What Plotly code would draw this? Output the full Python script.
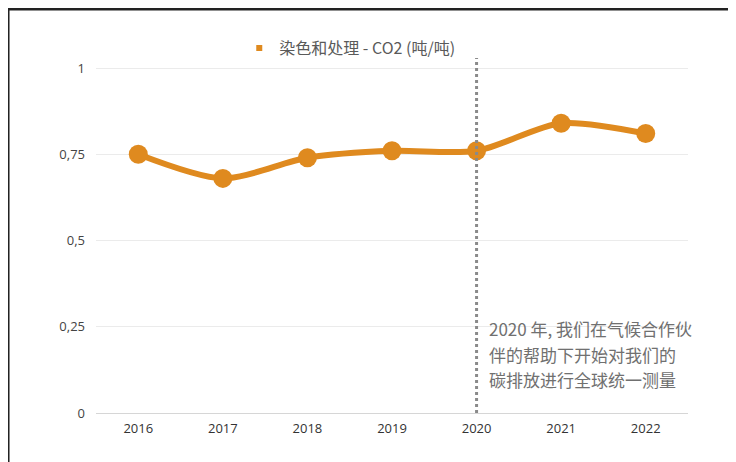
import plotly.graph_objects as go

years = ["2016", "2017", "2018", "2019", "2020", "2021", "2022"]
co2 = [0.75, 0.68, 0.74, 0.76, 0.76, 0.84, 0.81]
series_name = "染色和处理 - CO2 (吨/吨)"
note_lines = ["2020 年, 我们在气候合作伙", "伴的帮助下开始对我们的", "碳排放进行全球统一测量"]
y_ticks = [0, 0.25, 0.5, 0.75, 1]
marked_year_index = 4  # 2020

orange = "#DF8A1F"
fig = go.Figure()
fig.add_trace(go.Scatter(
    x=years, y=co2, mode="lines+markers",
    line=dict(color=orange, width=6, shape="spline", smoothing=0.8),
    marker=dict(color=orange, size=19),
    showlegend=False, cliponaxis=False,
))
fig.add_trace(go.Scatter(
    x=[None], y=[None], mode="markers", name=series_name,
    marker=dict(color=orange, size=6, symbol="square"),
))

fig.add_shape(type="line", xref="x", yref="paper", x0=marked_year_index, x1=marked_year_index,
              y0=0, y1=1, line=dict(color="#8a8a8a", width=3, dash="dot"))

# frame border (top and left)
fig.add_shape(type="path", xref="paper", yref="paper",
              path="M 1.2,1.138 L -0.1486,1.138 L -0.1486,-0.3",
              line=dict(color="#222222", width=3))

ys = [0.2435, 0.171, 0.0957]
for t, yv in zip(note_lines, ys):
    fig.add_annotation(x=0.6605, xref="paper", y=yv, yref="y", text=t, showarrow=False,
                       xanchor="left", yanchor="middle",
                       font=dict(family="Noto Sans CJK SC", size=17, color="#707070"))

fig.update_layout(
    width=728, height=454,
    margin=dict(l=88, r=48, t=50, b=49),
    paper_bgcolor="white", plot_bgcolor="white",
    separators=", ",
    font=dict(family="Open Sans, Noto Sans CJK SC", color="#444444"),
    legend=dict(orientation="h", x=0.242, xanchor="left", y=1.028, yanchor="middle",
                font=dict(family="Noto Sans CJK SC", size=16, color="#5a5a5a"),
                bgcolor="rgba(0,0,0,0)"),
    xaxis=dict(type="category", range=[-0.5, 6.5], showgrid=False, showline=False,
               ticks="", ticklabelstandoff=6,
               tickfont=dict(size=13, color="#333333"), zeroline=False),
    yaxis=dict(range=[0, 1.029], tickvals=y_ticks, showgrid=True, gridcolor="#ebebeb",
               gridwidth=1, zeroline=True, zerolinecolor="#d6d6d6", zerolinewidth=1,
               ticks="", ticklabelstandoff=10,
               tickfont=dict(size=13, color="#444444")),
)

fig.write_html("out.html")
